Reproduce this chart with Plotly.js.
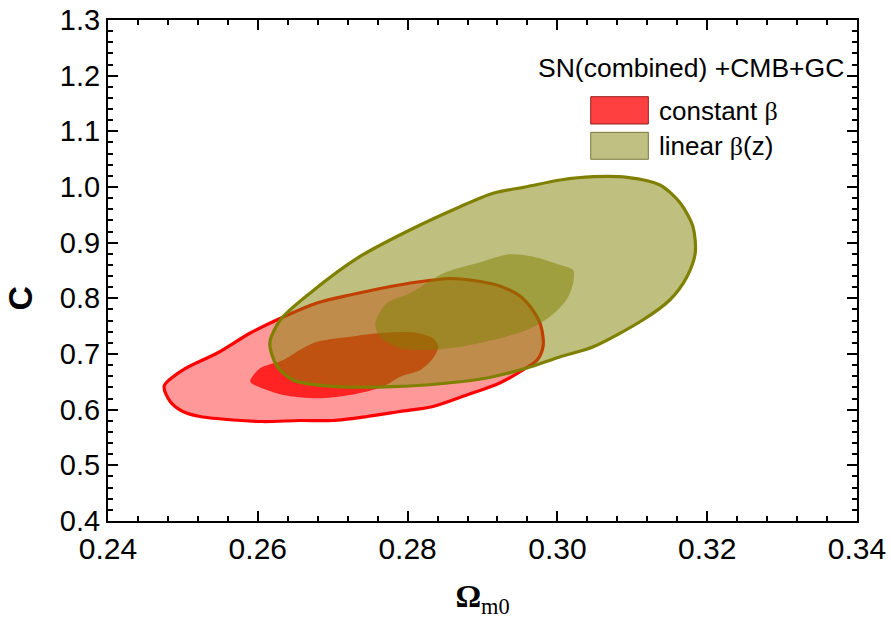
<!DOCTYPE html>
<html>
<head>
<meta charset="utf-8">
<script src="https://cdn.plot.ly/plotly-3.0.1.min.js"></script>
<style>html,body{margin:0;padding:0;background:#fff;}#chart{width:891px;height:622px;}</style>
</head>
<body>
<div id="chart"></div>
<script>
// Constant beta, 2-sigma (outer) contour
var constOuterX = [0.2475,0.2500,0.2546,0.2590,0.2634,0.2679,0.2723,0.2767,0.2813,0.2857,0.2893,0.2923,0.2950,0.2967,0.2978,0.2981,0.2973,0.2954,0.2923,0.2879,0.2834,0.2790,0.2746,0.2700,0.2656,0.2607,0.2567,0.2523,0.2500,0.2483,0.2475];
var constOuterY = [0.6425,0.6713,0.7018,0.7377,0.7665,0.7916,0.8060,0.8186,0.8293,0.8356,0.8311,0.8222,0.8042,0.7790,0.7503,0.7144,0.6892,0.6713,0.6479,0.6263,0.6057,0.5967,0.5877,0.5805,0.5805,0.5787,0.5814,0.5877,0.5967,0.6147,0.6425];
// Constant beta, 1-sigma (inner) contour
var constInnerX = [0.2590,0.2603,0.2634,0.2656,0.2679,0.2723,0.2767,0.2812,0.2834,0.2841,0.2834,0.2817,0.2790,0.2767,0.2723,0.2679,0.2634,0.2612,0.2590];
var constInnerY = [0.6502,0.6743,0.6892,0.7072,0.7221,0.7311,0.7383,0.7383,0.7282,0.7131,0.6923,0.6713,0.6592,0.6413,0.6263,0.6204,0.6263,0.6353,0.6502];
// Linear beta(z), 2-sigma (outer) contour
var linOuterX = [0.2616,0.2630,0.2670,0.2736,0.2803,0.2870,0.2914,0.2959,0.3004,0.3048,0.3093,0.3137,0.3164,0.3181,0.3184,0.3173,0.3150,0.3114,0.3048,0.3004,0.2959,0.2914,0.2870,0.2781,0.2692,0.2647,0.2626,0.2616];
var linOuterY = [0.7192,0.7611,0.8096,0.8748,0.9228,0.9646,0.9887,1.0005,1.0126,1.0185,1.0174,1.0036,0.9713,0.9287,0.8814,0.8389,0.7970,0.7611,0.7131,0.6952,0.6748,0.6592,0.6502,0.6413,0.6425,0.6533,0.6772,0.7192];
// Linear beta(z), 1-sigma (inner) contour
var linInnerX = [0.2757,0.2772,0.2803,0.2848,0.2892,0.2937,0.2968,0.3004,0.3021,0.3021,0.3012,0.2990,0.2959,0.2914,0.2870,0.2826,0.2790,0.2763,0.2757];
var linInnerY = [0.7551,0.7911,0.8090,0.8450,0.8629,0.8791,0.8748,0.8599,0.8509,0.8270,0.7970,0.7670,0.7431,0.7252,0.7131,0.7072,0.7102,0.7311,0.7551];

var legendTitle = "SN(combined) +CMB+GC";
var legendLabels = ["constant <span style=\"font-family:'Liberation Serif'\">β</span>", "linear <span style=\"font-family:'Liberation Serif'\">β</span>(z)"];
var xTickVals = [0.24,0.26,0.28,0.30,0.32,0.34];
var xTickText = ["0.24","0.26","0.28","0.30","0.32","0.34"];
var yTickVals = [0.4,0.5,0.6,0.7,0.8,0.9,1.0,1.1,1.2,1.3];
var yTickText = ["0.4","0.5","0.6","0.7","0.8","0.9","1.0","1.1","1.2","1.3"];
var xTitle = '<b>Ω</b><sub>m0</sub>';
var yTitle = '<b>C</b>';

var traces = [
  {x: constOuterX, y: constOuterY, type:'scatter', mode:'lines', fill:'toself',
   fillcolor:'rgba(255,0,0,0.4)', line:{color:'#ff0000', width:3.2, shape:'spline', smoothing:0.8}, hoverinfo:'skip', showlegend:false},
  {x: constInnerX, y: constInnerY, type:'scatter', mode:'lines', fill:'toself',
   fillcolor:'rgba(255,0,0,0.77)', line:{color:'rgba(0,0,0,0)', width:0, shape:'spline', smoothing:0.8}, hoverinfo:'skip', showlegend:false},
  {x: linOuterX, y: linOuterY, type:'scatter', mode:'lines', fill:'toself',
   fillcolor:'rgba(128,128,0,0.5)', line:{color:'#808000', width:3.2, shape:'spline', smoothing:0.8}, hoverinfo:'skip', showlegend:false},
  {x: linInnerX, y: linInnerY, type:'scatter', mode:'lines', fill:'toself',
   fillcolor:'rgba(128,128,0,0.5)', line:{color:'rgba(0,0,0,0)', width:0, shape:'spline', smoothing:0.8}, hoverinfo:'skip', showlegend:false}
];

var axisCommon = {
  showgrid:false, zeroline:false, showline:true, linecolor:'#000', linewidth:2,
  mirror:'ticks', ticks:'inside', ticklen:10, tickwidth:2, tickcolor:'#000'
};

var layout = {
  width:891, height:622,
  margin:{l:108, r:34, t:20, b:101},
  paper_bgcolor:'#fff', plot_bgcolor:'#fff',
  font:{family:'Liberation Sans, Arial, sans-serif', color:'#000'},
  showlegend:false,
  xaxis: Object.assign({}, axisCommon, {
    range:[0.24,0.34], tickmode:'array', tickvals:xTickVals, ticktext:xTickText,
    tickfont:{size:30, family:'Liberation Sans'},
    minor:{dtick:0.004, ticklen:5, tickwidth:2, tickcolor:'#000', ticks:'inside'},
    title:{text:xTitle, font:{family:'Liberation Serif', size:32}, standoff:21}
  }),
  yaxis: Object.assign({}, axisCommon, {
    range:[0.4,1.3], tickmode:'array', tickvals:yTickVals, ticktext:yTickText,
    tickfont:{size:29, family:'Liberation Sans'},
    minor:{dtick:0.02, ticklen:5, tickwidth:2, tickcolor:'#000', ticks:'inside'}
  }),
  shapes:[
    {type:'rect', xref:'paper', yref:'paper', x0:0.6445, x1:0.7214, y0:0.7924, y1:0.8469,
     fillcolor:'rgb(255,64,64)', line:{color:'rgb(150,30,30)', width:1}},
    {type:'rect', xref:'paper', yref:'paper', x0:0.6445, x1:0.7214, y0:0.7220, y1:0.7758,
     fillcolor:'rgb(192,192,130)', line:{color:'rgb(120,120,60)', width:1}}
  ],
  annotations:[
    {xref:'paper', yref:'paper', x:-0.1168, y:0.445, xanchor:'center', yanchor:'middle', showarrow:false,
     textangle:-90, text:yTitle, font:{size:34, family:'Liberation Sans'}},
    {xref:'paper', yref:'paper', x:0.779, y:0.9042, xanchor:'center', yanchor:'middle', showarrow:false,
     text:legendTitle, font:{size:26.5, family:'Liberation Sans'}},
    {xref:'paper', yref:'paper', x:0.7324, y:0.819, xanchor:'left', yanchor:'middle', showarrow:false,
     text:legendLabels[0], font:{size:26, family:'Liberation Sans'}},
    {xref:'paper', yref:'paper', x:0.7324, y:0.7485, xanchor:'left', yanchor:'middle', showarrow:false,
     text:legendLabels[1], font:{size:26, family:'Liberation Sans'}}
  ]
};

Plotly.newPlot('chart', traces, layout, {displayModeBar:false, staticPlot:true});
</script>
</body>
</html>
